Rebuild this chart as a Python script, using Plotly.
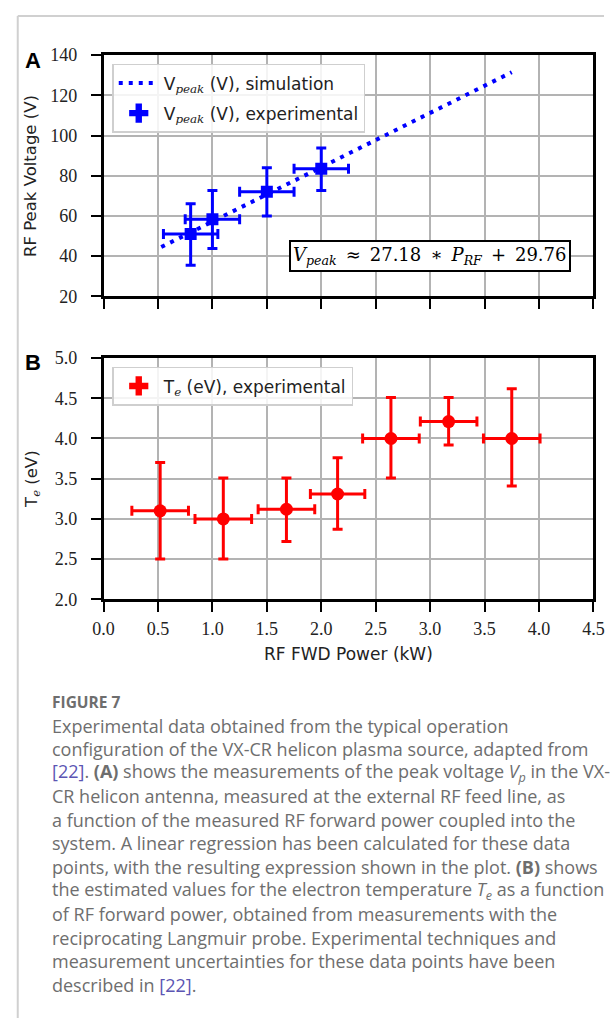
import plotly.graph_objects as go

W, H = 615, 1028

# ---------------- data ----------------
# Panel A: RF peak voltage
a_power = [0.8, 1.0, 1.5, 2.0]
a_volt = [51.0, 58.4, 72.0, 83.5]
a_volt_err_up = [15.0, 14.3, 12.0, 10.3]
a_volt_err_dn = [15.5, 14.6, 12.0, 10.8]
a_power_err = [0.25, 0.25, 0.25, 0.25]
sim_power = [0.53, 3.75]
sim_volt = [44.5, 131.5]

# Panel B: electron temperature
b_power = [0.52, 1.10, 1.68, 2.15, 2.64, 3.17, 3.75]
b_te = [3.10, 3.00, 3.12, 3.31, 4.00, 4.21, 4.00]
b_te_err_up = [0.60, 0.51, 0.39, 0.45, 0.51, 0.30, 0.62]
b_te_err_dn = [0.60, 0.50, 0.40, 0.44, 0.49, 0.29, 0.59]
b_power_err = [0.26, 0.26, 0.26, 0.25, 0.26, 0.26, 0.26]

x_ticks = [0.0, 0.5, 1.0, 1.5, 2.0, 2.5, 3.0, 3.5, 4.0, 4.5]
a_yticks = [20, 40, 60, 80, 100, 120, 140]
b_yticks = [2.0, 2.5, 3.0, 3.5, 4.0, 4.5, 5.0]

caption_lines = [
    "Experimental data obtained from the typical operation",
    "configuration of the VX-CR helicon plasma source, adapted from",
    "<span style='color:#5b55b3'>[22]</span>. <b>(A)</b> shows the measurements of the peak voltage <i>V</i><sub><i>p</i></sub> in the VX-",
    "CR helicon antenna, measured at the external RF feed line, as",
    "a function of the measured RF forward power coupled into the",
    "system. A linear regression has been calculated for these data",
    "points, with the resulting expression shown in the plot. <b>(B)</b> shows",
    "the estimated values for the electron temperature <i>T</i><sub><i>e</i></sub> as a function",
    "of RF forward power, obtained from measurements with the",
    "reciprocating Langmuir probe. Experimental techniques and",
    "measurement uncertainties for these data points have been",
    "described in <span style='color:#5b55b3'>[22]</span>.",
]

# ---------------- helpers ----------------
def px(x):
    return x / W

def py(y):
    return 1 - y / H

BLUE = "#0000ff"
RED = "#ff0000"
SERIF = "Liberation Serif"
SANS = "DejaVu Sans"
ital = "<span style='font-family:DejaVu Serif;font-style:italic'>%s</span>"

fig = go.Figure()

# simulation dotted line
fig.add_trace(go.Scatter(
    x=sim_power, y=sim_volt, mode="lines",
    line=dict(color=BLUE, width=4, dash="4px,6px"),
    name="V<sub>" + ital % "peak" + "</sub> (V), simulation",
    xaxis="x", yaxis="y", legend="legend", legendgroup="g1",
))
# experimental A
fig.add_trace(go.Scatter(
    x=a_power, y=a_volt, mode="markers",
    marker=dict(symbol="square", size=12, color=BLUE),
    error_y=dict(type="data", array=a_volt_err_up, arrayminus=a_volt_err_dn,
                 color=BLUE, thickness=3, width=5),
    error_x=dict(type="data", array=a_power_err, color=BLUE, thickness=3, width=5),
    showlegend=False, xaxis="x", yaxis="y",
))
# legend proxy for A
fig.add_trace(go.Scatter(
    x=[None], y=[None], mode="markers",
    marker=dict(symbol="cross", size=17, color=BLUE),
    name="V<sub>" + ital % "peak" + "</sub> (V), experimental",
    xaxis="x", yaxis="y", legend="legend", legendgroup="g2",
))

# experimental B
fig.add_trace(go.Scatter(
    x=b_power, y=b_te, mode="markers",
    marker=dict(symbol="circle", size=13, color=RED),
    error_y=dict(type="data", array=b_te_err_up, arrayminus=b_te_err_dn,
                 color=RED, thickness=3, width=5),
    error_x=dict(type="data", array=b_power_err, color=RED, thickness=3, width=5),
    showlegend=False, xaxis="x2", yaxis="y2",
))
fig.add_trace(go.Scatter(
    x=[None], y=[None], mode="markers",
    marker=dict(symbol="cross", size=17, color=RED),
    name="T<sub>" + ital % "e" + "</sub> (eV), experimental",
    xaxis="x2", yaxis="y2", legend="legend2",
))

xdom = [px(96), px(604)]
a_dom = [py(292), py(46)]
b_dom = [py(601), py(355)]

axis_common = dict(
    showgrid=True, gridcolor="#b3b3b3", gridwidth=1.6,
    showline=True, linecolor="black", linewidth=2.5, mirror=True,
    ticks="outside", ticklen=10, tickwidth=2.2, tickcolor="black",
    zeroline=False, ticklabeloverflow="allow",
    tickfont=dict(family=SERIF, size=18, color="#222"),
)

fig.update_layout(
    width=W, height=H,
    margin=dict(l=0, r=0, t=0, b=0),
    paper_bgcolor="white", plot_bgcolor="white",
    xaxis=dict(domain=xdom, anchor="y", range=[0, 4.5], tickvals=x_ticks,
               showticklabels=False, **axis_common),
    yaxis=dict(domain=a_dom, anchor="x", range=[20, 140], tickvals=a_yticks,
               ticklabelstandoff=10, **axis_common),
    xaxis2=dict(domain=xdom, anchor="y2", range=[0, 4.5], tickvals=x_ticks,
                tickformat=".1f", ticklabelstandoff=1, **axis_common),
    yaxis2=dict(domain=b_dom, anchor="x2", range=[2, 5], tickvals=b_yticks,
                tickformat=".1f", ticklabelstandoff=10, **axis_common),
    legend=dict(x=px(105), y=py(55), xanchor="left", yanchor="top",
                bgcolor="rgba(255,255,255,0.85)", bordercolor="#cfcfcf", borderwidth=1.5,
                font=dict(family=SANS, size=17, color="#222"),
                itemwidth=40, tracegroupgap=5),
    legend2=dict(x=px(105), y=py(364), xanchor="left", yanchor="top",
                 bgcolor="rgba(255,255,255,0.85)", bordercolor="#cfcfcf", borderwidth=1.5,
                 font=dict(family=SANS, size=17, color="#222"),
                 itemwidth=40),
    showlegend=True,
)

def note(text, x, y, size, family=SANS, color="#222", **kw):
    d = dict(text=text, x=px(x), y=py(y), xref="paper", yref="paper",
             xanchor="center", yanchor="middle", showarrow=False,
             font=dict(family=family, size=size, color=color))
    d.update(kw)
    return d

ann = []
ann.append(note("<b>A</b>", 23, 51, 22, family="Liberation Sans", color="black"))
ann.append(note("<b>B</b>", 23, 359, 22, family="Liberation Sans", color="black"))
ann.append(note("RF Peak Voltage (V)", 20, 169, 16.5, textangle=-90))
ann.append(note("T<sub>" + ital % "e" + "</sub> (eV)", 22, 478, 16.5, textangle=-90))
ann.append(note("RF FWD Power (kW)", 350, 657, 17))
sp = "\u2002"
formula = ("<i>V</i><sub><i>peak</i></sub>" + sp + "≈" + sp + "27.18" + sp + "∗" + sp +
           "<i>P</i><sub><i>RF</i></sub>" + sp + "+" + sp + "29.76")
ann.append(note(formula, 435, 251, 18, family="DejaVu Serif", color="black",
                bordercolor="black", borderwidth=2, borderpad=2, bgcolor="white"))

# caption
CAP = dict(family="Open Sans", size=18, color="#6e6e6e")
ann.append(dict(text="<b>FIGURE 7</b>", x=px(40), y=py(706), xref="paper", yref="paper",
                xanchor="left", yanchor="middle", showarrow=False,
                font=dict(family="Open Sans", size=15.5, color="#6e6e6e")))
for i, line in enumerate(caption_lines):
    ann.append(dict(text=line, x=px(40), y=py(730 + i * 24.0), xref="paper", yref="paper",
                    xanchor="left", yanchor="middle", showarrow=False, font=CAP))

fig.update_layout(annotations=ann)

# page border lines
fig.add_shape(type="line", xref="paper", yref="paper", x0=px(7), x1=1, y0=py(6), y1=py(6),
              line=dict(color="#d0d0d0", width=2))
fig.add_shape(type="line", xref="paper", yref="paper", x0=px(7), x1=px(7), y0=py(6), y1=0,
              line=dict(color="#d0d0d0", width=2))

fig.write_html("out.html",
               post_script="document.body.style.margin='0';document.body.style.overflow='hidden';")
